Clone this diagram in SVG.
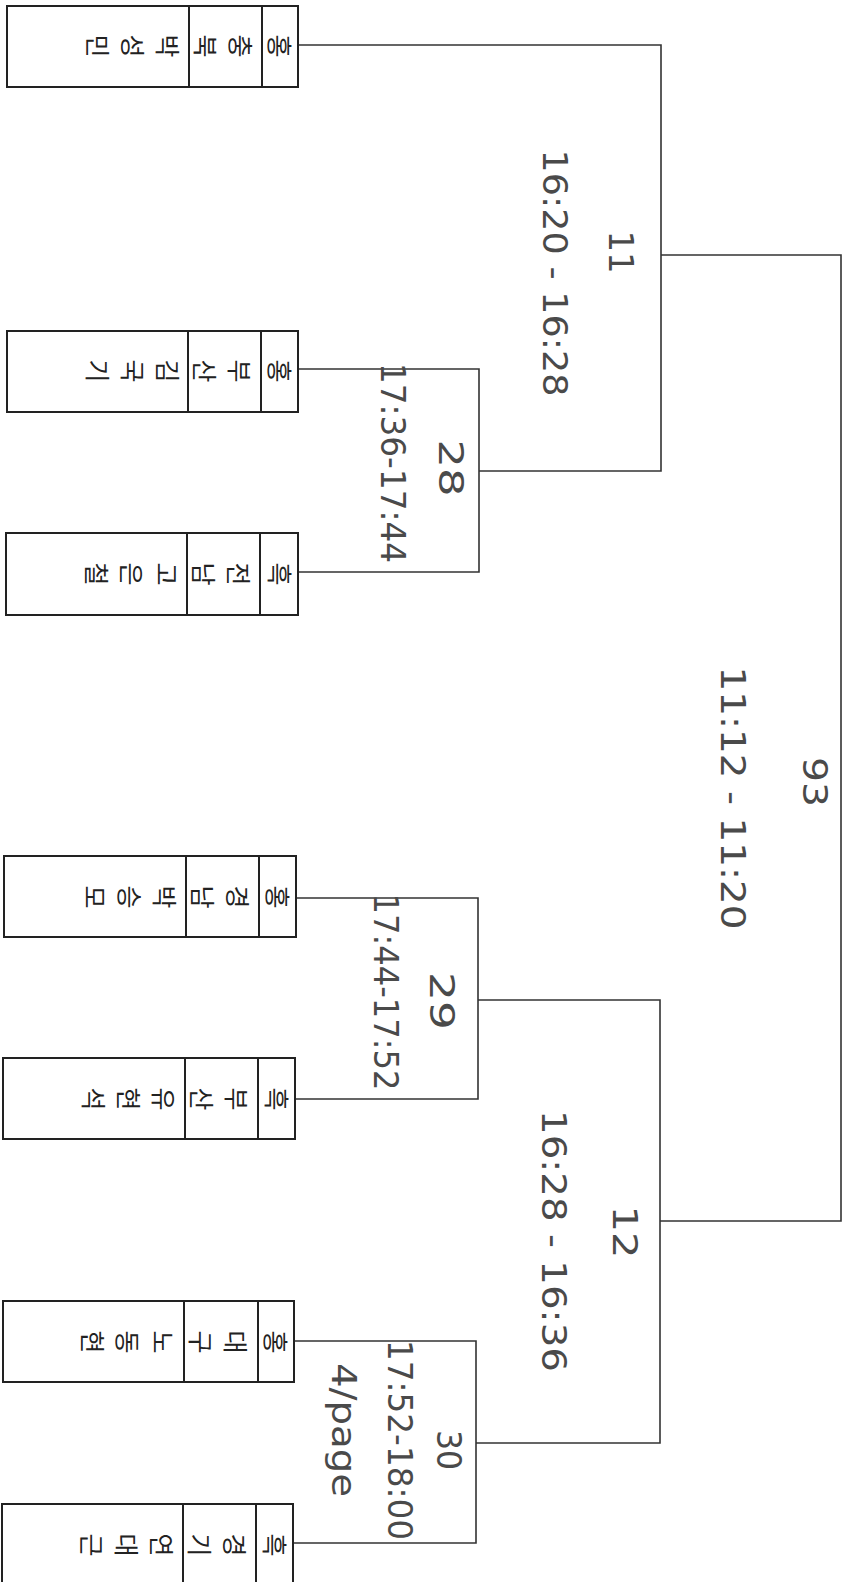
<svg xmlns="http://www.w3.org/2000/svg" width="850" height="1582" viewBox="0 0 850 1582">
<style>
.box{fill:#fff;stroke:#222;stroke-width:2}
.div{stroke:#222;stroke-width:2}
.k{font-family:"Noto Sans CJK KR","Noto Sans",sans-serif;font-size:25px;fill:#222;writing-mode:vertical-rl;letter-spacing:10px}
.c{stroke:#333;stroke-width:1.6;fill:none}
.h{font-family:"DejaVu Sans","Liberation Sans",sans-serif;font-size:34px;fill:#4a4a4a;text-anchor:middle;dominant-baseline:central}
</style>
<rect width="850" height="1582" fill="#fff"/>
<g id="connectors">
<path class="c" d="M298,45H661V471H479"/>
<path class="c" d="M298,369H479V572H298"/>
<path class="c" d="M661,255H841V1221H660"/>
<path class="c" d="M296,898H478V1099H295"/>
<path class="c" d="M478,1000H660V1443H476"/>
<path class="c" d="M294,1341H476V1543H293"/>
</g>
<g id="p1">
<rect class="box" x="7" y="6" width="291" height="81"/>
<line class="div" x1="189" y1="6" x2="189" y2="87"/><line class="div" x1="262" y1="6" x2="262" y2="87"/>
<text class="k" transform="translate(292,46) rotate(90)">홍</text>
<text class="k" transform="translate(253,46) rotate(90)">충북</text>
<text class="k" transform="translate(180,46) rotate(90)">박성민</text>
</g>
<g id="p2">
<rect class="box" x="7" y="331" width="291" height="81"/>
<line class="div" x1="188" y1="331" x2="188" y2="412"/><line class="div" x1="261" y1="331" x2="261" y2="412"/>
<text class="k" transform="translate(292,371) rotate(90)">홍</text>
<text class="k" transform="translate(252,371) rotate(90)">부산</text>
<text class="k" transform="translate(180,371) rotate(90)">김국기</text>
</g>
<g id="p3">
<rect class="box" x="6" y="533" width="292" height="82"/>
<line class="div" x1="187" y1="533" x2="187" y2="615"/><line class="div" x1="260" y1="533" x2="260" y2="615"/>
<text class="k" transform="translate(292,574) rotate(90)">흑</text>
<text class="k" transform="translate(251,574) rotate(90)">전남</text>
<text class="k" transform="translate(179,574) rotate(90)">고은철</text>
</g>
<g id="p4">
<rect class="box" x="4" y="856" width="292" height="81"/>
<line class="div" x1="186" y1="856" x2="186" y2="937"/><line class="div" x1="259" y1="856" x2="259" y2="937"/>
<text class="k" transform="translate(290,897) rotate(90)">홍</text>
<text class="k" transform="translate(250,897) rotate(90)">경남</text>
<text class="k" transform="translate(177,897) rotate(90)">박승모</text>
</g>
<g id="p5">
<rect class="box" x="3" y="1058" width="292" height="81"/>
<line class="div" x1="185" y1="1058" x2="185" y2="1139"/><line class="div" x1="258" y1="1058" x2="258" y2="1139"/>
<text class="k" transform="translate(289,1099) rotate(90)">흑</text>
<text class="k" transform="translate(249,1099) rotate(90)">부산</text>
<text class="k" transform="translate(176,1099) rotate(90)">유현석</text>
</g>
<g id="p6">
<rect class="box" x="3" y="1301" width="291" height="81"/>
<line class="div" x1="184" y1="1301" x2="184" y2="1382"/><line class="div" x1="258" y1="1301" x2="258" y2="1382"/>
<text class="k" transform="translate(288,1342) rotate(90)">홍</text>
<text class="k" transform="translate(248,1342) rotate(90)">대구</text>
<text class="k" transform="translate(175,1342) rotate(90)">노동현</text>
</g>
<g id="p7">
<rect class="box" x="2" y="1504" width="291" height="82"/>
<line class="div" x1="183" y1="1504" x2="183" y2="1586"/><line class="div" x1="256" y1="1504" x2="256" y2="1586"/>
<text class="k" transform="translate(287,1545) rotate(90)">흑</text>
<text class="k" transform="translate(247,1545) rotate(90)">경기</text>
<text class="k" transform="translate(174,1545) rotate(90)">연대근</text>
</g>
<g id="labels">
<text class="h" transform="translate(555,273) rotate(90)" textLength="247" lengthAdjust="spacingAndGlyphs">16:20 - 16:28</text>
<text class="h" transform="translate(621,252) rotate(90)" textLength="43" lengthAdjust="spacingAndGlyphs">11</text>
<text class="h" transform="translate(393,463) rotate(90)" textLength="200" lengthAdjust="spacingAndGlyphs" font-size="30">17:36-17:44</text>
<text class="h" transform="translate(451,468) rotate(90)" textLength="57" lengthAdjust="spacingAndGlyphs">28</text>
<text class="h" transform="translate(733,798) rotate(90)" textLength="263" lengthAdjust="spacingAndGlyphs">11:12 - 11:20</text>
<text class="h" transform="translate(815,782) rotate(90)" textLength="50" lengthAdjust="spacingAndGlyphs">93</text>
<text class="h" transform="translate(386,992) rotate(90)" textLength="197" lengthAdjust="spacingAndGlyphs" font-size="30">17:44-17:52</text>
<text class="h" transform="translate(442,1001) rotate(90)" textLength="58" lengthAdjust="spacingAndGlyphs">29</text>
<text class="h" transform="translate(554,1241) rotate(90)" textLength="262" lengthAdjust="spacingAndGlyphs">16:28 - 16:36</text>
<text class="h" transform="translate(625,1232) rotate(90)" textLength="53" lengthAdjust="spacingAndGlyphs">12</text>
<text class="h" transform="translate(400,1440) rotate(90)" textLength="200" lengthAdjust="spacingAndGlyphs" font-size="30">17:52-18:00</text>
<text class="h" transform="translate(449,1450) rotate(90)" textLength="40" lengthAdjust="spacingAndGlyphs" font-size="30">30</text>
<text class="h" transform="translate(344,1430) rotate(90)" textLength="134" lengthAdjust="spacingAndGlyphs" font-size="30">4/page</text>
</g>
</svg>
